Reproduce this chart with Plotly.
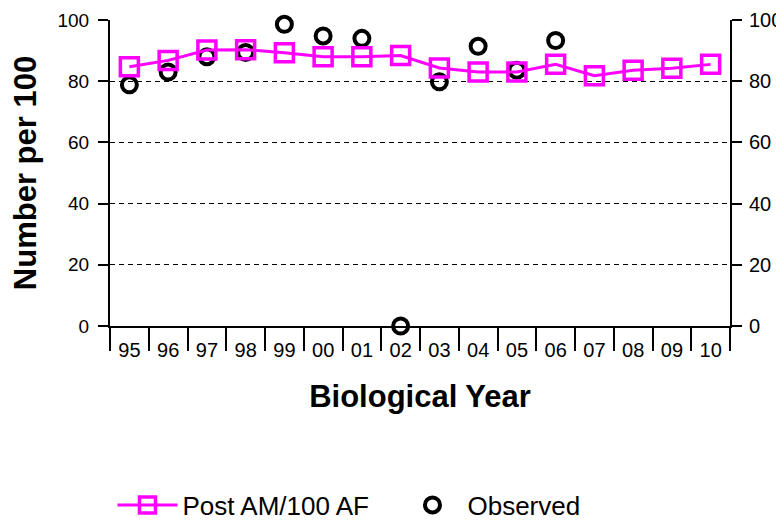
import plotly.graph_objects as go

years = ["95", "96", "97", "98", "99", "00", "01", "02", "03", "04", "05", "06", "07", "08", "09", "10"]
post_am = [84.7, 86.8, 90.2, 90.3, 89.3, 88.0, 88.0, 88.4, 84.3, 83.0, 83.0, 85.5, 81.8, 83.6, 84.2, 85.5]
observed = [78.8, 83.0, 88.0, 89.4, 98.6, 94.8, 94.0, 0.0, 79.8, 91.4, 83.6, 93.3, None, None, None, None]

FONT = "Liberation Sans, Arial, sans-serif"
MAGENTA = "#FF00FF"

fig = go.Figure()
fig.add_trace(go.Scatter(
    x=years, y=observed, mode="markers", name="Observed",
    marker=dict(symbol="circle-open", size=15, color="black", line=dict(width=4, color="black")),
    cliponaxis=False,
))
fig.add_trace(go.Scatter(
    x=years, y=post_am, mode="lines+markers", name="Post AM/100 AF",
    line=dict(color=MAGENTA, width=3),
    marker=dict(symbol="square-open", size=18, color=MAGENTA, line=dict(width=3.5, color=MAGENTA)),
    cliponaxis=False,
))
# invisible copy on the right-hand axis so that axis is drawn
fig.add_trace(go.Scatter(
    x=years, y=post_am, mode="lines", yaxis="y2", opacity=0,
    showlegend=False, hoverinfo="skip",
))

# the page adds an 8px body margin, so the figure is 8px smaller
fig.update_layout(
    width=776, height=513,
    margin=dict(l=102, r=54, t=12, b=195, autoexpand=False),
    plot_bgcolor="white", paper_bgcolor="white",
    font=dict(family=FONT, color="black"),
    showlegend=True,
    legend=dict(
        orientation="h", x=0.004, xanchor="left", y=-0.585, yanchor="middle",
        font=dict(size=26, family=FONT, color="black"),
        traceorder="reversed", entrywidth=210, entrywidthmode="pixels",
        itemwidth=60,
    ),
    xaxis=dict(
        type="category", range=[-0.5, 15.5], automargin=False,
        tickson="boundaries", ticks="outside", ticklen=23, tickwidth=2, tickcolor="black",
        showline=True, linewidth=2, linecolor="black",
        showgrid=False, zeroline=False,
        tickfont=dict(size=20, family=FONT, color="black"),
        ticklabelstandoff=5,
        title=dict(text="<b>Biological Year</b>", font=dict(size=31, family=FONT, color="black"), standoff=25),
    ),
    yaxis=dict(
        range=[0, 100], tickvals=[0, 20, 40, 60, 80, 100], automargin=False,
        ticks="outside", ticklen=10, tickwidth=2, tickcolor="black",
        showline=True, linewidth=2, linecolor="black",
        showgrid=True, gridcolor="black", gridwidth=1, griddash="5px,4px",
        zeroline=False,
        tickfont=dict(size=19, family=FONT, color="black"),
        ticklabelstandoff=5,
        title=dict(text="<b>Number per 100</b>", font=dict(size=31, family=FONT, color="black"), standoff=14),
    ),
    yaxis2=dict(
        overlaying="y", side="right", anchor="x", automargin=False,
        range=[0, 100], tickvals=[0, 20, 40, 60, 80, 100],
        ticks="outside", ticklen=10, tickwidth=2, tickcolor="black",
        showline=True, linewidth=2, linecolor="black",
        showgrid=False, zeroline=False,
        tickfont=dict(size=20, family=FONT, color="black"),
        ticklabelstandoff=3,
    ),
)

fig.write_html("out.html")
